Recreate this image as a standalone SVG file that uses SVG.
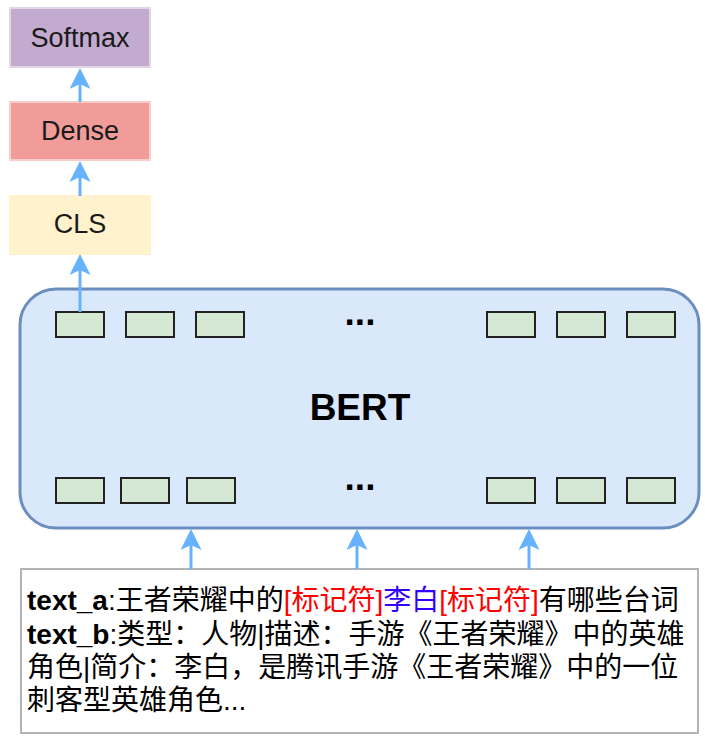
<svg xmlns="http://www.w3.org/2000/svg" width="705" height="741" viewBox="0 0 705 741">
  <style>
    .lbl { font-family: "Liberation Sans", Arial, sans-serif; font-size: 27px; fill: #1a1a1a; text-anchor: middle; }
    .big { font-family: "Liberation Sans", Arial, sans-serif; font-size: 37px; font-weight: bold; fill: #000; text-anchor: middle; }
    .tok { fill: #D5E8D4; stroke: #222; stroke-width: 2; }
    .conn { stroke: #66B2FF; stroke-width: 3; fill: none; marker-end: url(#arrow); }
    .inp { font-family: "Liberation Sans", "Noto Sans CJK SC", sans-serif; font-size: 28px; fill: #000; }
    .b { font-weight: bold; }
    .red { fill: #FF0000; }
    .blue { fill: #3300FF; }
  </style>
  <defs>
    <marker id="arrow" viewBox="0 0 21 21" refX="5" refY="10.5" markerWidth="21" markerHeight="21" markerUnits="userSpaceOnUse" orient="auto">
      <path d="M0,0 L21,10.5 L0,21 L5,10.5 Z" fill="#66B2FF"/>
    </marker>
  </defs>
  <rect width="705" height="741" fill="#fff"/>

  <g id="softmax">
    <rect x="10" y="8" width="140" height="59" fill="#C3ABD0" stroke="#E1D5E7" stroke-width="2"/>
    <text class="lbl" x="80" y="47">Softmax</text>
  </g>
  <g id="dense">
    <rect x="10" y="102" width="140" height="58" fill="#F19C99" stroke="#F8CECC" stroke-width="2"/>
    <text class="lbl" x="80" y="140">Dense</text>
  </g>
  <g id="cls">
    <rect x="10" y="196" width="140" height="58" fill="#FFF2CC" stroke="#FFF2CC" stroke-width="2"/>
    <text class="lbl" x="80" y="233">CLS</text>
  </g>

  <g id="bert">
    <rect x="20" y="289" width="679" height="239" rx="36" ry="36" fill="#DAE8FC" stroke="#6C8EBF" stroke-width="3"/>
    <text class="big" x="360" y="420">BERT</text>
    <text class="big" x="360" y="325">...</text>
    <text class="big" x="360" y="490">...</text>
  </g>
  <g id="tokens-top">
    <rect class="tok" x="56" y="312" width="48" height="25"/>
    <rect class="tok" x="126" y="312" width="48" height="25"/>
    <rect class="tok" x="196" y="312" width="48" height="25"/>
    <rect class="tok" x="487" y="312" width="48" height="25"/>
    <rect class="tok" x="557" y="312" width="48" height="25"/>
    <rect class="tok" x="627" y="312" width="48" height="25"/>
  </g>
  <g id="tokens-bottom">
    <rect class="tok" x="56" y="478" width="48" height="25"/>
    <rect class="tok" x="121" y="478" width="48" height="25"/>
    <rect class="tok" x="187" y="478" width="48" height="25"/>
    <rect class="tok" x="487" y="478" width="48" height="25"/>
    <rect class="tok" x="557" y="478" width="48" height="25"/>
    <rect class="tok" x="627" y="478" width="48" height="25"/>
  </g>

  <g id="input">
    <rect x="21" y="569" width="677" height="164" fill="#fff" stroke="#B3B3B3" stroke-width="2"/>
    <text class="inp" x="27" y="610"><tspan class="b">text_a</tspan>:王者荣耀中的<tspan class="red">[标记符]</tspan><tspan class="blue">李白</tspan><tspan class="red">[标记符]</tspan>有哪些台词</text>
    <text class="inp" x="27" y="643.5"><tspan class="b">text_b</tspan>:类型：人物|描述：手游《王者荣耀》中的英雄</text>
    <text class="inp" x="27" y="677">角色|简介：李白，是腾讯手游《王者荣耀》中的一位</text>
    <text class="inp" x="27" y="710">刺客型英雄角色...</text>
  </g>

  <g id="connectors">
    <line class="conn" x1="80" y1="102" x2="80" y2="84"/>
    <line class="conn" x1="80" y1="196" x2="80" y2="177"/>
    <line class="conn" x1="80" y1="312" x2="80" y2="270"/>
    <line class="conn" x1="191" y1="569" x2="191" y2="545"/>
    <line class="conn" x1="357" y1="569" x2="357" y2="545"/>
    <line class="conn" x1="529" y1="569" x2="529" y2="545"/>
  </g>
</svg>
